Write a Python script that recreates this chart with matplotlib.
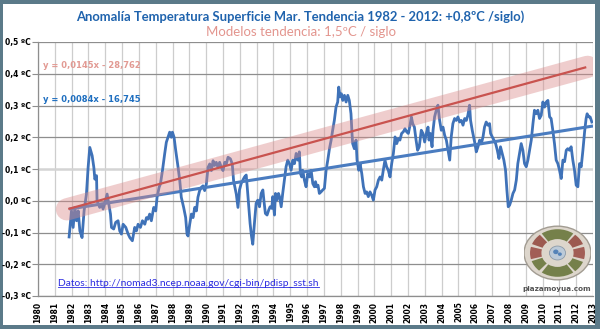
import numpy as np
import matplotlib
matplotlib.use("Agg")
import matplotlib.pyplot as plt
from matplotlib.patches import Ellipse, Wedge, Circle

# Monthly sea-surface temperature anomaly (ºC), decimal years
years = [
    1981.85, 1981.99, 1982.09, 1982.19, 1982.29, 1982.39, 1982.49, 1982.62, 1982.74, 1982.88,
    1982.98, 1983.08, 1983.22, 1983.32, 1983.38, 1983.48, 1983.51, 1983.67, 1983.77, 1983.87,
    1984.01, 1984.11, 1984.21, 1984.31, 1984.37, 1984.50, 1984.62, 1984.76, 1984.86, 1984.96,
    1985.06, 1985.22, 1985.36, 1985.46, 1985.61, 1985.75, 1985.85, 1985.95, 1986.09, 1986.21,
    1986.35, 1986.45, 1986.54, 1986.64, 1986.74, 1986.88, 1987.00, 1987.08, 1987.20, 1987.28,
    1987.40, 1987.53, 1987.63, 1987.73, 1987.83, 1987.93, 1987.99, 1988.09, 1988.19, 1988.33,
    1988.43, 1988.52, 1988.66, 1988.78, 1988.86, 1988.92, 1989.02, 1989.12, 1989.22, 1989.32,
    1989.42, 1989.51, 1989.61, 1989.71, 1989.81, 1989.91, 1990.01, 1990.11, 1990.21, 1990.31,
    1990.41, 1990.50, 1990.60, 1990.70, 1990.80, 1990.90, 1991.00, 1991.10, 1991.20, 1991.30,
    1991.44, 1991.55, 1991.63, 1991.79, 1991.89, 1991.98, 1992.08, 1992.18, 1992.28, 1992.38,
    1992.44, 1992.53, 1992.61, 1992.69, 1992.77, 1992.87, 1992.97, 1993.07, 1993.17, 1993.27,
    1993.37, 1993.43, 1993.52, 1993.62, 1993.72, 1993.80, 1993.90, 1993.96, 1994.06, 1994.12,
    1994.20, 1994.30, 1994.36, 1994.46, 1994.55, 1994.65, 1994.75, 1994.85, 1994.95, 1995.05,
    1995.15, 1995.25, 1995.35, 1995.45, 1995.54, 1995.60, 1995.68, 1995.74, 1995.84, 1995.94,
    1996.04, 1996.14, 1996.24, 1996.34, 1996.44, 1996.50, 1996.57, 1996.65, 1996.73, 1996.83,
    1996.93, 1997.03, 1997.13, 1997.23, 1997.33, 1997.43, 1997.52, 1997.62, 1997.72, 1997.82,
    1997.88, 1997.96, 1998.04, 1998.12, 1998.22, 1998.32, 1998.42, 1998.51, 1998.61, 1998.67,
    1998.71, 1998.81, 1998.91, 1998.97, 1999.07, 1999.15, 1999.25, 1999.35, 1999.45, 1999.54,
    1999.64, 1999.74, 1999.84, 1999.94, 2000.04, 2000.14, 2000.24, 2000.34, 2000.44, 2000.53,
    2000.63, 2000.73, 2000.83, 2000.93, 2001.03, 2001.13, 2001.23, 2001.33, 2001.43, 2001.52,
    2001.62, 2001.72, 2001.82, 2001.92, 2002.02, 2002.12, 2002.20, 2002.28, 2002.38, 2002.48,
    2002.57, 2002.67, 2002.79, 2002.89, 2002.99, 2003.09, 2003.19, 2003.25, 2003.33, 2003.43,
    2003.49, 2003.58, 2003.68, 2003.78, 2003.88, 2003.98, 2004.08, 2004.18, 2004.28, 2004.38,
    2004.48, 2004.57, 2004.67, 2004.77, 2004.87, 2004.97, 2005.07, 2005.17, 2005.27, 2005.37,
    2005.47, 2005.56, 2005.66, 2005.72, 2005.82, 2005.90, 2005.98, 2006.06, 2006.16, 2006.26,
    2006.36, 2006.46, 2006.55, 2006.65, 2006.75, 2006.85, 2006.91, 2007.01, 2007.11, 2007.21,
    2007.31, 2007.41, 2007.50, 2007.60, 2007.70, 2007.80, 2007.88, 2007.96, 2008.04, 2008.14,
    2008.24, 2008.34, 2008.44, 2008.53, 2008.63, 2008.73, 2008.83, 2008.93, 2009.03, 2009.13,
    2009.23, 2009.33, 2009.43, 2009.52, 2009.62, 2009.72, 2009.82, 2009.92, 2010.02, 2010.12,
    2010.22, 2010.32, 2010.42, 2010.51, 2010.61, 2010.71, 2010.81, 2010.91, 2011.01, 2011.11,
    2011.21, 2011.31, 2011.41, 2011.50, 2011.60, 2011.70, 2011.80, 2011.90, 2012.00, 2012.10,
    2012.20, 2012.30, 2012.40, 2012.50, 2012.59, 2012.65, 2012.75, 2012.83, 2012.93,
]
anomaly = [
    -0.114, -0.032, -0.084, -0.021, -0.063, -0.032, -0.095, -0.116, -0.032, 0.021,
    0.105, 0.168, 0.142, 0.105, 0.068, 0.079, 0.000, -0.021, -0.011, -0.026,
    0.000, 0.021, -0.011, -0.042, -0.084, -0.089, -0.068, -0.063, -0.095, -0.105,
    -0.074, -0.084, -0.105, -0.116, -0.126, -0.084, -0.095, -0.074, -0.084, -0.063,
    -0.074, -0.053, -0.058, -0.042, -0.063, -0.021, -0.032, 0.011, 0.042, 0.053,
    0.095, 0.147, 0.184, 0.200, 0.216, 0.200, 0.216, 0.200, 0.158, 0.105,
    0.063, 0.011, -0.021, -0.053, -0.105, -0.111, -0.074, -0.042, -0.053, -0.021,
    -0.032, 0.011, 0.032, 0.042, 0.047, 0.032, 0.053, 0.105, 0.116, 0.095,
    0.126, 0.111, 0.121, 0.105, 0.121, 0.105, 0.095, 0.121, 0.116, 0.137,
    0.132, 0.116, 0.063, 0.021, -0.021, 0.034, 0.054, 0.065, 0.075, 0.081,
    0.044, -0.019, -0.071, -0.110, -0.137, -0.070, -0.008, 0.002, -0.019, 0.023,
    0.034, 0.002, -0.040, -0.045, -0.029, -0.019, -0.024, 0.013, -0.045, 0.023,
    0.002, 0.023, 0.013, -0.019, 0.023, 0.065, 0.107, 0.128, 0.117, 0.096,
    0.128, 0.117, 0.149, 0.128, 0.154, 0.086, 0.075, 0.096, 0.065, 0.044,
    0.086, 0.075, 0.096, 0.054, 0.044, 0.060, 0.044, 0.049, 0.023, 0.028,
    0.034, 0.039, 0.096, 0.128, 0.164, 0.191, 0.222, 0.253, 0.295, 0.311,
    0.358, 0.327, 0.337, 0.316, 0.332, 0.311, 0.332, 0.316, 0.274, 0.212,
    0.180, 0.164, 0.191, 0.128, 0.096, 0.117, 0.086, 0.044, 0.023, 0.028,
    0.013, 0.028, 0.018, 0.002, 0.034, 0.044, 0.065, 0.075, 0.065, 0.096,
    0.128, 0.107, 0.096, 0.075, 0.117, 0.149, 0.201, 0.180, 0.196, 0.191,
    0.212, 0.217, 0.227, 0.217, 0.212, 0.238, 0.264, 0.243, 0.232, 0.191,
    0.159, 0.170, 0.222, 0.212, 0.185, 0.212, 0.232, 0.191, 0.212, 0.170,
    0.222, 0.264, 0.285, 0.301, 0.253, 0.222, 0.232, 0.206, 0.191, 0.159,
    0.128, 0.201, 0.243, 0.259, 0.253, 0.264, 0.248, 0.253, 0.238, 0.259,
    0.253, 0.269, 0.301, 0.253, 0.222, 0.201, 0.180, 0.154, 0.170, 0.191,
    0.180, 0.201, 0.232, 0.248, 0.238, 0.243, 0.212, 0.201, 0.191, 0.180,
    0.159, 0.133, 0.170, 0.149, 0.128, 0.096, 0.034, -0.019, -0.014, 0.002,
    0.023, 0.034, 0.065, 0.117, 0.149, 0.180, 0.159, 0.117, 0.107, 0.128,
    0.159, 0.191, 0.243, 0.285, 0.274, 0.285, 0.259, 0.269, 0.311, 0.295,
    0.311, 0.316, 0.264, 0.259, 0.222, 0.180, 0.128, 0.117, 0.096, 0.070,
    0.128, 0.123, 0.159, 0.164, 0.159, 0.170, 0.128, 0.096, 0.049, 0.044,
    0.117, 0.107, 0.159, 0.217, 0.259, 0.274, 0.264, 0.264, 0.248,
]

# Trend of the observations (ºC per year) and its level at the start year
obs_slope = 0.0084
obs_start_year = 1982
obs_start_value = -0.025
obs_span = [1981.85, 2013.0]

# Model trend: y = 0,0145x - 28,762
model_slope = 0.0145
model_intercept = -28.762
model_span = [1981.8, 2012.6]
band_span = [1981.72, 2012.68]

year_ticks = list(range(1980, 2014))
value_ticks = [-0.3, -0.2, -0.1, 0.0, 0.1, 0.2, 0.3, 0.4, 0.5]
value_labels = ["-0,3 ºC", "-0,2 ºC", "-0,1 ºC", "0,0 ºC", "0,1 ºC",
                "0,2 ºC", "0,3 ºC", "0,4 ºC", "0,5 ºC"]

title = "Anomalía Temperatura Superficie Mar. Tendencia 1982 - 2012: +0,8ºC /siglo)"
subtitle = "Modelos tendencia: 1,5ºC / siglo"
eq_model = "y = 0,0145x - 28,762"
eq_obs = "y = 0,0084x - 16,745"
source = "Datos: http://nomad3.ncep.noaa.gov/cgi-bin/pdisp_sst.sh"

W, H = 600, 329
fig = plt.figure(figsize=(W / 100, H / 100), dpi=100, facecolor="#5b7a89")

# white panel inside the slate frame
panel = fig.add_axes([3 / W, 1 - 325 / H, 592 / W, 321.5 / H], zorder=-10)
panel.set_facecolor("white")
panel.set_xticks([])
panel.set_yticks([])
for s in panel.spines.values():
    s.set_visible(False)

ax = fig.add_axes([38 / W, 1 - 296 / H, 555 / W, 254 / H], zorder=2)
ax.patch.set_alpha(0)
ax.set_xlim(1980, 2013)
ax.set_ylim(-0.3, 0.5)

# grid
for yr in year_ticks:
    ax.axvline(yr, color="#cdcdcd", lw=0.9, zorder=1)
for v in value_ticks:
    if abs(v - 0.1) < 1e-9:
        ax.axhline(v, color="#d4d4d4", lw=1.8, zorder=1)
    else:
        ax.axhline(v, color="#8e8e8e", lw=0.9, zorder=1)

for side in ["top", "right"]:
    ax.spines[side].set_visible(False)
for side in ["left", "bottom"]:
    ax.spines[side].set_color("#8e8e8e")
    ax.spines[side].set_linewidth(0.9)

ax.set_xticks(year_ticks)
ax.set_xticklabels([str(y) for y in year_ticks], rotation=90,
                   fontsize=5.5, fontweight="bold", family="DejaVu Sans")
ax.set_yticks(value_ticks)
ax.set_yticklabels(value_labels, fontsize=5.5, fontweight="bold",
                   family="DejaVu Sans")
ax.tick_params(axis="y", length=4, color="#8e8e8e", pad=1)
ax.tick_params(axis="x", length=0, pad=4)

# observations
ax.plot(years, anomaly, color="#3f72b8", lw=2.0, zorder=3,
        solid_joinstyle="round")

# observed trend
ox = np.array(obs_span)
oy = obs_start_value + obs_slope * (ox - obs_start_year)
ax.plot(ox, oy, color="#4a7cc0", lw=2.2, zorder=4, solid_capstyle="butt")

# model trend band and line
bx = np.array(band_span)
ax.plot(bx, model_slope * bx + model_intercept, color="#d98a8a", alpha=0.42,
        lw=16, solid_capstyle="round", zorder=5)
mx = np.array(model_span)
ax.plot(mx, model_slope * mx + model_intercept, color="#c9534f", lw=1.6,
        zorder=6, solid_capstyle="butt")

# titles
fig.text(300 / W, 1 - 17 / H, title, ha="center", va="center",
         fontsize=9.4, fontweight="bold", color="#1f63ad", family="Lato",
         zorder=5)
fig.text(301 / W, 1 - 32 / H, subtitle, ha="center", va="center",
         fontsize=9.5, color="#e3958e", family="Lato", zorder=5)

# trend equations
fig.text(43 / W, 1 - 65 / H, eq_model, ha="left", va="center", fontsize=6,
         fontweight="bold", color="#e29a93", family="DejaVu Sans", zorder=5)
fig.text(43 / W, 1 - 99 / H, eq_obs, ha="left", va="center", fontsize=6,
         fontweight="bold", color="#1f6fc0", family="DejaVu Sans", zorder=5)

# data source link
src = fig.text(58 / W, 1 - 283 / H, source, ha="left", va="center",
               fontsize=7.4, color="#2a2ae0", family="Lato", zorder=5)
fig.canvas.draw()
bb = src.get_window_extent()
fig.add_artist(plt.Line2D([bb.x0 / W, bb.x1 / W],
                          [(bb.y0 + 0.5) / H, (bb.y0 + 0.5) / H],
                          transform=fig.transFigure, color="#2a2ae0", lw=0.6,
                          zorder=5))

# site logo
lax = fig.add_axes([524 / W, 1 - 282 / H, 67 / W, 58 / H], zorder=4)
lax.set_xlim(-1, 1)
lax.set_ylim(-1, 1)
lax.axis("off")
lax.add_patch(Ellipse((0, 0), 2.0, 1.85, facecolor="#ddd6cc",
                      edgecolor="#a29c92", lw=1.0))
segments = [(55, 125, "#75804a"), (22, 50, "#9c5a50"), (-15, 15, "#a25e56"),
            (-50, -22, "#75804a"), (235, 305, "#75804a"), (200, 228, "#75804a"),
            (165, 195, "#a25e56"), (130, 158, "#9c5a50")]
for a0, a1, col in segments:
    lax.add_patch(Wedge((0, 0), 0.82, a0, a1, width=0.34, facecolor=col,
                        edgecolor="none"))
lax.add_patch(Circle((0, 0), 0.24, facecolor="#bccad8", edgecolor="#8c9aa8",
                     lw=0.6))
lax.add_patch(Circle((-0.05, 0.04), 0.08, facecolor="#5583b8", edgecolor="none"))
lax.add_patch(Circle((0.07, -0.04), 0.06, facecolor="#5583b8", edgecolor="none"))
fig.text(557 / W, 1 - 289 / H, "plazamoyua.com", ha="center", va="center",
         fontsize=5.2, fontweight="bold", color="#555555", family="DejaVu Sans",
         zorder=5)

fig.savefig("out.png", dpi=100, facecolor=fig.get_facecolor())
